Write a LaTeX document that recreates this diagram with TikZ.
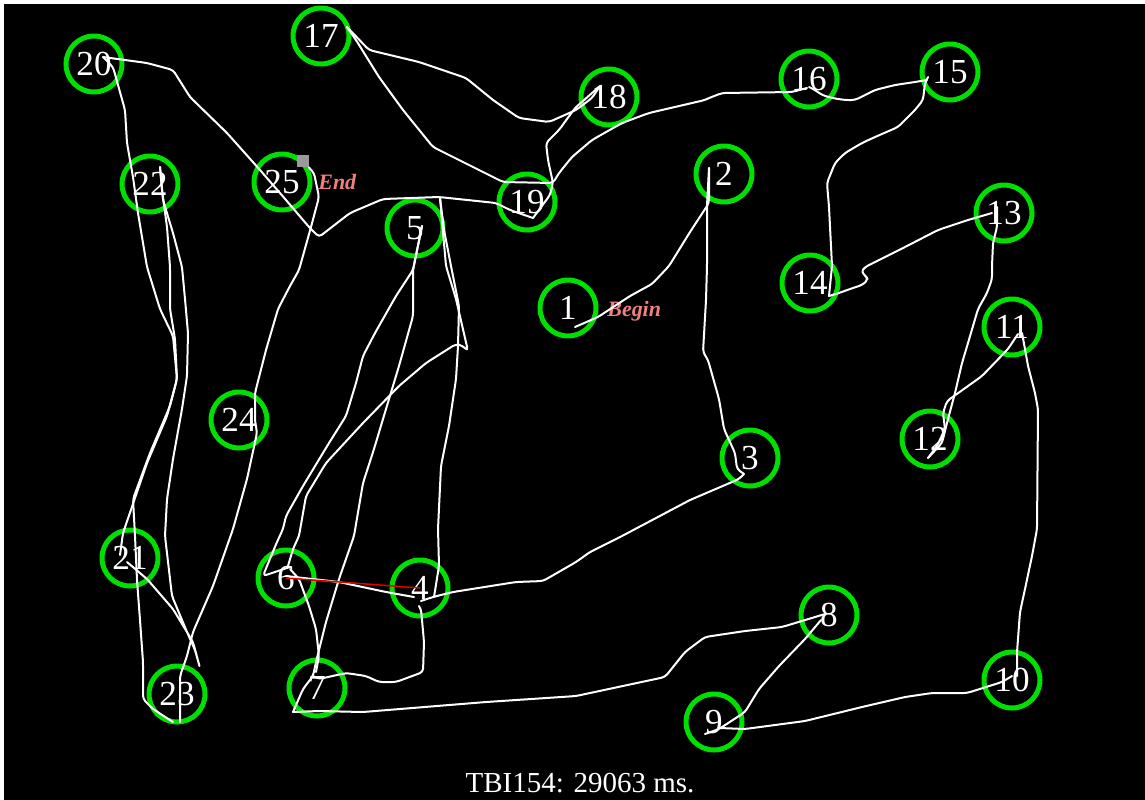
\documentclass[tikz,border=0pt]{standalone}
\usepackage{fontspec}
\setmainfont{Liberation Serif}
\usetikzlibrary{calc}
\definecolor{ringgreen}{HTML}{00E000}
\definecolor{notepink}{HTML}{F08080}
\definecolor{penred}{HTML}{E00000}
\definecolor{pengray}{HTML}{9A9A9A}

\begin{document}
\begin{tikzpicture}[
    x=0.02cm, y=-0.02cm,
    ring/.style={
        circle,
        draw=ringgreen,
        line width=0.1cm,
        minimum size=1.12cm,
        inner sep=0pt,
        text=white,
        font=\fontsize{20}{24}\selectfont
    },
    trace/.style={draw=white, line width=0.04cm, line join=round, line cap=round, rounded corners=2pt},
    errline/.style={draw=penred, line width=0.03cm},
    note/.style={text=notepink, inner sep=0pt, font=\fontsize{12.5}{15}\selectfont\bfseries\itshape},
    caption/.style={text=white, inner sep=0pt, font=\fontsize{16.5}{20}\selectfont},
    penmark/.style={rectangle, fill=pengray, minimum size=0.24cm, inner sep=0pt}
]

\useasboundingbox (0,0) rectangle (1145,799);
\fill[black] (-5,-5) rectangle (1150,805);
\fill[white] (-5,-5) rectangle (4,805);
\fill[white] (-5,-5) rectangle (1150,4);

\node[ring] (c1) at (568,308) {1};
\node[ring] (c2) at (724,174) {2};
\node[ring] (c3) at (750,458) {3};
\node[ring] (c4) at (420,588) {4};
\node[ring] (c5) at (415,228) {5};
\node[ring] (c6) at (286,578) {6};
\node[ring] (c7) at (317,688) {7};
\node[ring] (c8) at (829,615) {8};
\node[ring] (c9) at (714,722) {9};
\node[ring] (c10) at (1012,680) {10};
\node[ring] (c11) at (1012,327) {11};
\node[ring] (c12) at (930,439) {12};
\node[ring] (c13) at (1004,213) {13};
\node[ring] (c14) at (810,283) {14};
\node[ring] (c15) at (950,72) {15};
\node[ring] (c16) at (809,79) {16};
\node[ring] (c17) at (321,36) {17};
\node[ring] (c18) at (609,97) {18};
\node[ring] (c19) at (527,202) {19};
\node[ring] (c20) at (94,64) {20};
\node[ring] (c21) at (130,558) {21};
\node[ring] (c22) at (150,184) {22};
\node[ring] (c23) at (177,694) {23};
\node[ring] (c24) at (239,420) {24};
\node[ring] (c25) at (282,182) {25};

\node[note, anchor=base west] (begin) at (607,316) {Begin};
\node[note, anchor=base west] (end) at (318,189) {End};
\node[penmark] (pen) at (303,161) {};
\node[caption, anchor=base] (score) at (580,792) {TBI154: 29063 ms.};

\draw[trace] ($(c1)+(7,19)$) -- (598,317) -- (630,296) -- (652,284) -- (669,266) -- (690,232) -- (709,203) -- ($(c2)+(-15,-6)$);
\draw[trace] ($(c2)+(-15,-6)$) -- (707,205) -- (707,266) -- (706,300) -- (703,352) -- (708,360) -- (719,399) -- (724,429) -- (735,453) -- (737,469) -- ($(c3)+(-6,16)$);
\draw[trace] ($(c3)+(-6,16)$) -- (739,479) -- (690,500) -- (622,536) -- (590,552) -- (576,562) -- (543,581) -- (516,582) -- (453,592) -- (433,597) -- ($(c4)+(1,13)$);
\draw[trace] ($(c4)+(14,9)$) -- (439,566) -- (438,529) -- (441,466) -- (449,426) -- (456,379) -- (458,346) -- (459,306) -- (451,266) -- (444,230) -- ($(c5)+(25,-30)$);
\draw[trace] ($(c5)+(25,-30)$) -- (446,266) -- (456,299) -- (462,325) -- (468,351) -- (463,346) -- (456,344) -- (426,363) -- (399,386) -- (363,423) -- (326,463) -- (306,496) -- (299,536) -- (293,549) -- ($(c6)+(2,-12)$);
\draw[trace] ($(c5)+(7,-2)$) -- (413,270) -- (396,296) -- (375,333) -- (363,356) -- (356,383) -- (346,416) -- (329,443) -- (303,486) -- (286,516) -- (283,529) -- (277,542) -- (267,566) -- (263,576) -- ($(c6)+(4,-11)$);
\draw[trace] ($(c5)+(7,-2)$) -- (413,270) -- (413,316) -- (399,366) -- (386,409) -- (374,449) -- (363,483) -- (354,536) -- (339,579) -- (326,622) -- (316,662) -- (313,676) -- (303,689) -- ($(c7)+(-24,24)$);
\draw[trace] ($(c6)+(0,-2)$) -- (339,582) -- (386,592) -- ($(c4)+(-6,9)$);
\draw[trace] ($(c4)+(-1,18)$) -- (421,609) -- (424,642) -- (423,672) -- (396,682) -- (379,682) -- (366,676) -- (346,673) -- (319,679) -- ($(c7)+(-4,-12)$);
\draw[trace] ($(c6)+(4,-9)$) -- (299,579) -- (309,606) -- (316,629) -- (319,656) -- ($(c7)+(-1,-16)$);
\draw[trace] ($(c7)+(-24,24)$) -- (319,711) -- (363,712) -- (486,702) -- (576,696) -- (665,677) -- (685,652) -- (705,637) -- (745,631) -- (782,627) -- ($(c8)+(-4,-1)$);
\draw[trace] ($(c8)+(-8,5)$) -- (805,639) -- (779,666) -- (759,689) -- (745,712) -- (719,729) -- ($(c9)+(-9,12)$);
\draw[trace] ($(c9)+(6,6)$) -- (745,729) -- (805,721) -- (862,707) -- (905,697) -- (932,693) -- (967,693) -- (1002,682) -- ($(c10)+(0,-4)$);
\draw[trace] ($(c10)+(5,-4)$) -- (1017,652) -- (1020,612) -- (1025,589) -- (1032,556) -- (1037,529) -- (1038,409) -- (1035,393) -- (1028,366) -- (1025,349) -- ($(c11)+(10,6)$);
\draw[trace] ($(c11)+(6,7)$) -- (1008,349) -- (982,376) -- (947,401) -- (943,413) -- (945,429) -- (937,446) -- ($(c12)+(-2,19)$);
\draw[trace] ($(c12)+(-2,19)$) -- (942,443) -- (948,419) -- (955,393) -- (962,363) -- (968,343) -- (978,309) -- (987,293) -- (992,279) -- (992,266) -- (993,243) -- (997,227) -- ($(c13)+(-7,-6)$);
\draw[trace] ($(c13)+(-12,0)$) -- (968,220) -- (938,230) -- (905,247) -- (865,267) -- (861,272) -- (866,276) -- (868,280) -- (862,285) -- (850,289) -- (839,293) -- ($(c14)+(19,13)$);
\draw[trace] ($(c14)+(19,13)$) -- (832,266) -- (829,207) -- (827,183) -- (835,163) -- (845,153) -- (862,143) -- (875,137) -- (898,127) -- (915,110) -- (923,100) -- (925,83) -- ($(c15)+(-22,5)$);
\draw[trace] ($(c15)+(-23,8)$) -- (915,82) -- (895,85) -- (875,90) -- (855,100) -- (845,100) -- (832,98) -- (822,95) -- (815,90) -- ($(c16)+(0,8)$);
\draw[trace] ($(c16)+(-2,9)$) -- (792,92) -- (722,93) -- (709,98) -- (705,100) -- (649,113) -- (622,123) -- (592,140) -- (572,157) -- (559,173) -- (553,183) -- (503,182) -- (473,167) -- (433,147) -- (403,110) -- (379,77) -- (356,40) -- ($(c17)+(26,-9)$);
\draw[trace] ($(c17)+(26,-9)$) -- (369,50) -- (419,62) -- (466,78) -- (493,100) -- (519,118) -- (549,122) -- (576,110) -- (592,98) -- ($(c18)+(-9,-11)$);
\draw[trace] ($(c18)+(-9,-11)$) -- (575,108) -- (559,130) -- (546,143) -- (548,160) -- (553,183) -- (550,195) -- ($(c19)+(6,16)$);
\draw[trace] ($(c19)+(6,16)$) -- (510,210) -- (496,203) -- (439,197) -- (383,199) -- (350,213) -- (319,237) -- (309,227) -- (286,200) -- (260,170) -- (227,133) -- (190,97) -- (173,70) -- (147,63) -- ($(c20)+(9,-7)$);
\draw[trace] ($(c20)+(9,-7)$) -- (113,67) -- (125,110) -- (127,143) -- (133,177) -- (138,213) -- (147,267) -- (160,309) -- (173,336) -- (177,379) -- (167,416) -- (147,463) -- (123,533) -- ($(c21)+(-10,-3)$);
\draw[trace] ($(c21)+(-3,4)$) -- (147,579) -- (173,609) -- (193,642) -- (200,668) -- (195,650) -- (187,632) -- (172,596) -- (165,536) -- (167,499) -- (173,459) -- (182,409) -- (187,376) -- (188,333) -- (185,299) -- (182,267) -- (173,233) -- (163,200) -- ($(c22)+(10,-17)$);
\draw[trace] ($(c22)+(10,-17)$) -- (162,190) -- (167,227) -- (170,267) -- (170,309) -- (175,339) -- (177,379) -- (170,406) -- (150,453) -- (133,499) -- (135,536) -- (137,580) -- (140,620) -- (143,662) -- (143,699) -- (153,709) -- ($(c23)+(-4,28)$);
\draw[trace] ($(c23)+(3,28)$) -- (180,676) -- (187,656) -- (193,632) -- (213,586) -- (233,529) -- (247,479) -- (257,433) -- ($(c24)+(16,0)$);
\draw[trace] ($(c24)+(16,0)$) -- (255,393) -- (266,350) -- (278,309) -- (290,286) -- (299,270) -- (311,227) -- (319,197) -- (314,173) -- (pen);

\draw[errline] (c6.center) -- (c4.center);

\end{tikzpicture}
\end{document}
